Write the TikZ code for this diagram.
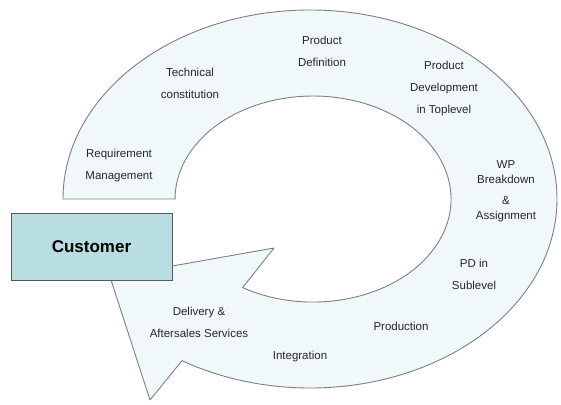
\documentclass[tikz,border=0pt]{standalone}
\usepackage{fontspec}
\setmainfont{Liberation Sans}
\definecolor{bandfill}{HTML}{F1F8FA}
\definecolor{bandline}{HTML}{7F7F7F}
\definecolor{custfill}{HTML}{B9DEE2}
\definecolor{custline}{HTML}{5A5A5A}
\begin{document}
\begin{tikzpicture}[x=1pt,y=1pt,
  lbl/.style={align=center,inner sep=0pt,font=\fontsize{11.5}{22}\selectfont,text=black!85},
  band/.style={fill=bandfill,draw=bandline,line width=0.9pt,line join=round},
  custbox/.style={fill=custfill,draw=custline,line width=0.9pt,minimum width=161pt,minimum height=67pt,inner sep=0pt,font=\fontsize{17}{20}\selectfont\bfseries}]
\useasboundingbox (0,0) rectangle (561,404);
% cycle arrow band
\coordinate (outerstart) at (63,205);
\coordinate (barbB) at (150,4);
\coordinate (tip) at (110,127);
\coordinate (barbA) at (274,156);
\coordinate (innerstart) at (242.6,116.4);
\draw[band] (outerstart) arc[start angle=180, end angle=-121.2, x radius=247pt, y radius=189pt]
  -- (barbB) -- (tip) -- (barbA) -- (innerstart)
  arc[start angle=-120.7, end angle=180, x radius=138pt, y radius=103pt] -- cycle;
% customer
\node[custbox] (cust) at (91.5,157.5) {Customer};
% labels
\node[lbl] (req) at (119,238) {Requirement\\Management};
\node[lbl] (tech) at (190,321) {Technical\\constitution};
\node[lbl] (pdef) at (322,353) {Product\\Definition};
\node[lbl,font=\fontsize{11.5}{22}\selectfont] (pdev) at (444,315) {Product\\Development\\in Toplevel};
\node[lbl,font=\fontsize{11.5}{14.5}\selectfont] (wp) at (506,213) {WP\\Breakdown\\[7pt]\&\\Assignment};
\node[lbl] (pdsub) at (474,129.5) {PD in\\Sublevel};
\node[lbl] (prod) at (401,78) {Production};
\node[lbl] (integ) at (300,47) {Integration};
\node[lbl] (deliv) at (199,82) {Delivery \&\\Aftersales Services};
\end{tikzpicture}
\end{document}
